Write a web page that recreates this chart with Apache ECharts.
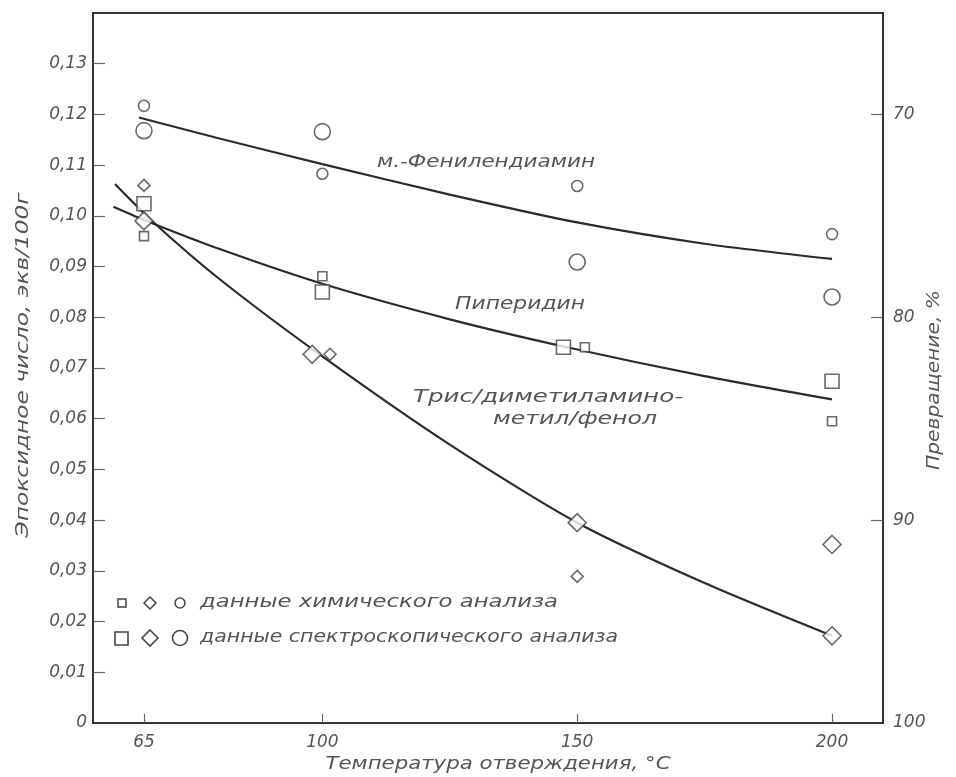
<!DOCTYPE html>
<html>
<head>
<meta charset="utf-8">
<script src="https://cdn.jsdelivr.net/npm/echarts@6/dist/echarts.min.js"></script>
<style>
html,body{margin:0;padding:0;background:#fff;}
#c{width:956px;height:777px;}
</style>
</head>
<body>
<div id="c"></div>
<script>
// ---- data ----
var xTicks = [65, 100, 150, 200];
var yTicks = [0, 0.01, 0.02, 0.03, 0.04, 0.05, 0.06, 0.07, 0.08, 0.09, 0.10, 0.11, 0.12, 0.13];
var convTicks = [70, 80, 90, 100];

// chemical analysis (small markers)
var chemCircles  = [[65, 0.1217], [100, 0.1083], [150, 0.1059], [200, 0.0964]];
var chemSquares  = [[65, 0.0960], [100, 0.0881], [151.5, 0.0741], [200, 0.0595]];
var chemDiamonds = [[65, 0.1060], [101.5, 0.0727], [150, 0.0289]];
// spectroscopic analysis (large markers)
var specCircles  = [[65, 0.1168], [100, 0.1166], [150, 0.0909], [200, 0.0840]];
var specSquares  = [[65, 0.1024], [100, 0.0850], [147.3, 0.0741], [200, 0.0674]];
var specDiamonds = [[65, 0.0990], [98, 0.0727], [150, 0.0395], [200, 0.0352], [200, 0.0172]];

// fitted curves
var curvePDA  = [[64, 0.1194], [80, 0.1152], [100, 0.1102], [125, 0.1042], [150, 0.0987], [175, 0.0945], [200, 0.0915]];
var curvePip  = [[59, 0.1018], [65, 0.0992], [80, 0.0934], [100, 0.0866], [125, 0.0796], [148, 0.0741], [175, 0.0684], [200, 0.0638]];
var curveTris = [[59.3, 0.1063], [66.8, 0.0988], [80, 0.0874], [100, 0.0723], [125, 0.0549], [150, 0.0395], [175, 0.0276], [200, 0.0172]];

var labelPDA = 'м.-Фенилендиамин';
var labelPip = 'Пиперидин';
var labelTris1 = 'Трис/диметиламино-';
var labelTris2 = 'метил/фенол';
var legendChem = 'данные химического анализа';
var legendSpec = 'данные спектроскопического анализа';
var xName = 'Температура отверждения, °С';
var yName = 'Эпоксидное число, экв/100г';
var y2Name = 'Превращение, %';

var INK = '#2b2b2b';
var TXT = '#555';
var FONT = '"DejaVu Sans"';

var cv = document.createElement('canvas').getContext('2d');
function fitScale(t, size, width){
  cv.font = 'italic ' + size + 'px ' + FONT;
  return width / cv.measureText(t).width;
}
function txt(t, x, y, size, width, align, rot){
  var a = align || 'center';
  return {type:'text', x:x, y:y, rotation:rot||0, scaleX:fitScale(t, size, width), scaleY:1,
    style:{text:t, font:'italic ' + size + 'px ' + FONT, fill:TXT,
      textAlign:a, textVerticalAlign:'middle'}, z:10};
}
function lineSeries(d){
  return {type:'line', data:d, smooth:0.25, showSymbol:false, symbol:'none',
    lineStyle:{color:INK, width:2.2}, z:2, silent:true};
}
function pts(d, sym, size){
  return {type:'scatter', data:d, symbol:sym, symbolSize:size,
    itemStyle:{color:'#fff', borderColor:'#444', borderWidth:1.6}, z:5};
}
var tickFont = {fontFamily:FONT, fontStyle:'italic', fontSize:17, color:TXT};

var chart = echarts.init(document.getElementById('c'));
chart.setOption({
  animation:false,
  backgroundColor:'#fff',
  grid:{left:93, right:73, top:13, bottom:54, show:true, borderColor:'#333', borderWidth:2, backgroundColor:'transparent'},
  xAxis:{type:'value', min:55, max:210,
    axisLine:{show:true, lineStyle:{color:'#333', width:2}},
    axisTick:{show:true, inside:true, length:9, customValues:xTicks, lineStyle:{color:'#666', width:1.2}},
    axisLabel:Object.assign({customValues:xTicks, margin:11}, tickFont),
    splitLine:{show:false}},
  yAxis:[{type:'value', min:0, max:0.14, position:'left',
    axisLine:{show:true, lineStyle:{color:'#333', width:2}},
    axisTick:{show:true, inside:true, length:12, customValues:yTicks.slice(1), lineStyle:{color:'#666', width:1.2}},
    axisLabel:Object.assign({customValues:yTicks, margin:6,
      formatter:function(v){return v===0?'0':v.toFixed(2).replace('.', ',');}}, tickFont),
    splitLine:{show:false}},
   {type:'value', min:65, max:100, inverse:true, position:'right',
    axisLine:{show:true, lineStyle:{color:'#333', width:2}},
    axisTick:{show:true, inside:true, length:12, customValues:[70,80,90], lineStyle:{color:'#666', width:1.2}},
    axisLabel:Object.assign({customValues:convTicks, margin:10}, tickFont),
    splitLine:{show:false}}],
  series:[
    lineSeries(curvePDA), lineSeries(curvePip), lineSeries(curveTris),
    pts(chemCircles,'circle',11), pts(chemSquares,'rect',9), pts(chemDiamonds,'diamond',12),
    pts(specCircles,'circle',16), pts(specSquares,'rect',14), pts(specDiamonds,'diamond',18)
  ],
  graphic:[
    txt(labelPDA, 486, 163, 17, 218),
    txt(labelPip, 520, 305, 17, 130),
    txt(labelTris1, 548, 398, 17, 270),
    txt(labelTris2, 575, 420, 17, 164),
    txt(legendChem, 200, 603, 17, 358, 'left'),
    txt(legendSpec, 200, 638, 17, 418, 'left'),
    txt(xName, 498, 765, 17, 345),
    txt(yName, 24, 365, 17, 345, 'center', Math.PI/2),
    txt(y2Name, 935, 380, 17, 180, 'center', Math.PI/2),
    {type:'rect', shape:{x:118, y:599, width:8, height:8}, style:{fill:'#fff', stroke:'#444', lineWidth:1.5}},
    {type:'polygon', shape:{points:[[150,597],[156,603],[150,609],[144,603]]}, style:{fill:'#fff', stroke:'#444', lineWidth:1.5}},
    {type:'circle', shape:{cx:180, cy:603, r:5}, style:{fill:'#fff', stroke:'#444', lineWidth:1.5}},
    {type:'rect', shape:{x:115, y:632, width:13, height:13}, style:{fill:'#fff', stroke:'#444', lineWidth:1.6}},
    {type:'polygon', shape:{points:[[150,630],[158,638],[150,646],[142,638]]}, style:{fill:'#fff', stroke:'#444', lineWidth:1.6}},
    {type:'circle', shape:{cx:180, cy:638, r:7.5}, style:{fill:'#fff', stroke:'#444', lineWidth:1.6}}
  ]
});
</script>
</body>
</html>
